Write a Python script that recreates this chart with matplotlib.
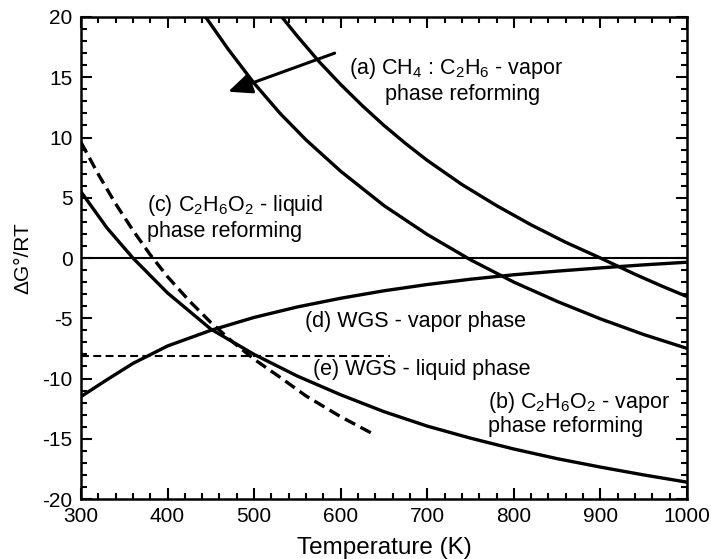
import matplotlib
matplotlib.use("Agg")
import matplotlib.pyplot as plt
from matplotlib.ticker import MultipleLocator

plt.rcParams["font.family"] = ["Liberation Sans", "DejaVu Sans"]
plt.rcParams["mathtext.fontset"] = "custom"
plt.rcParams["mathtext.rm"] = "Liberation Sans"
plt.rcParams["mathtext.it"] = "Liberation Sans:italic"
plt.rcParams["mathtext.default"] = "regular"
plt.rcParams["axes.unicode_minus"] = False

# (a) CH4 : C2H6 vapor phase reforming, two curves
t_ch4 = [444, 470, 500, 530, 560, 600, 650, 700, 750, 800, 850, 900, 950, 1000]
g_ch4 = [20.0, 17.33, 14.5, 12.0, 9.8, 7.2, 4.35, 1.95, -0.15, -2.0, -3.6, -5.05, -6.35, -7.5]
t_c2h6 = [532, 550, 575, 600, 625, 650, 675, 700, 740, 780, 820, 860, 900, 940, 970, 1000]
g_c2h6 = [20.0, 18.4, 16.3, 14.4, 12.64, 11.0, 9.5, 8.1, 6.1, 4.35, 2.75, 1.3, 0.0, -1.35, -2.3, -3.2]

# (b) C2H6O2 vapor phase reforming
t_b = [300, 330, 360, 400, 450, 500, 550, 600, 650, 700, 750, 800, 850, 900, 950, 1000]
g_b = [5.5, 2.5, 0.0, -2.9, -5.9, -8.0, -9.8, -11.35, -12.75, -13.95, -14.95, -15.85, -16.65, -17.35, -18.0, -18.6]

# (c) C2H6O2 liquid phase reforming
t_c = [300, 320, 340, 360, 380, 400, 425, 450, 475, 500, 530, 560, 600, 640]
g_c = [9.6, 6.95, 4.5, 2.3, 0.27, -1.55, -3.55, -5.35, -6.95, -8.4, -9.9, -11.45, -13.17, -14.7]

# (d) WGS vapor phase
t_d = [300, 330, 360, 400, 450, 500, 550, 600, 650, 700, 750, 800, 850, 900, 950, 1000]
g_d = [-11.5, -10.1, -8.75, -7.3, -6.0, -4.93, -4.06, -3.34, -2.72, -2.2, -1.76, -1.39, -1.09, -0.82, -0.57, -0.35]

# (e) WGS liquid phase
t_e = [300, 657]
g_e = [-8.13, -8.13]

fig = plt.figure(figsize=(7.11, 5.59), dpi=100)
ax = fig.add_axes([0.1139, 0.1073, 0.8523, 0.8623])

ax.axhline(0, color="black", lw=1.5)
solid = dict(color="black", lw=2.4, solid_joinstyle="round")
ax.plot(t_ch4, g_ch4, **solid)
ax.plot(t_c2h6, g_c2h6, **solid)
ax.plot(t_b, g_b, **solid)
ax.plot(t_d, g_d, **solid)
ax.plot(t_c, g_c, color="black", lw=2.4, dashes=(3.5, 1.8))
ax.plot(t_e, g_e, color="black", lw=1.5, dashes=(3.8, 2.1))

ax.annotate("", xy=(470, 13.8), xytext=(593, 17.0),
            arrowprops=dict(arrowstyle="-|>,head_length=0.8,head_width=0.35",
                            mutation_scale=18, lw=2.2, color="black",
                            shrinkA=0, shrinkB=0))

fs = 15.5
ax.text(733, 15.27, r"(a) CH$_4$ : C$_2$H$_6$ - vapor", fontsize=fs, ha="center", va="baseline")
ax.text(741, 13.1, "phase reforming", fontsize=fs, ha="center", va="baseline")
ax.text(376, 3.9, r"(c) C$_2$H$_6$O$_2$ - liquid", fontsize=fs, ha="left", va="baseline")
ax.text(376, 1.75, "phase reforming", fontsize=fs, ha="left", va="baseline")
ax.text(559, -5.7, "(d) WGS - vapor phase", fontsize=fs, ha="left", va="baseline")
ax.text(568, -9.7, "(e) WGS - liquid phase", fontsize=fs, ha="left", va="baseline")
ax.text(770, -12.45, r"(b) C$_2$H$_6$O$_2$ - vapor", fontsize=fs, ha="left", va="baseline")
ax.text(770, -14.45, "phase reforming", fontsize=fs, ha="left", va="baseline")

ax.set_xlim(300, 1000)
ax.set_ylim(-20, 20)
ax.xaxis.set_major_locator(MultipleLocator(100))
ax.xaxis.set_minor_locator(MultipleLocator(20))
ax.yaxis.set_major_locator(MultipleLocator(5))
ax.yaxis.set_minor_locator(MultipleLocator(1))
ax.tick_params(which="both", direction="in", top=True, right=True, width=1.5, labelsize=15, pad=6)
ax.tick_params(which="major", length=8)
ax.tick_params(which="minor", length=4.3)
for spine in ax.spines.values():
    spine.set_linewidth(1.8)

ax.set_xlabel("Temperature (K)", fontsize=17.5, labelpad=8)
ax.set_ylabel("ΔG°/RT", fontsize=15, labelpad=7)

fig.savefig("out.png", dpi=100)
